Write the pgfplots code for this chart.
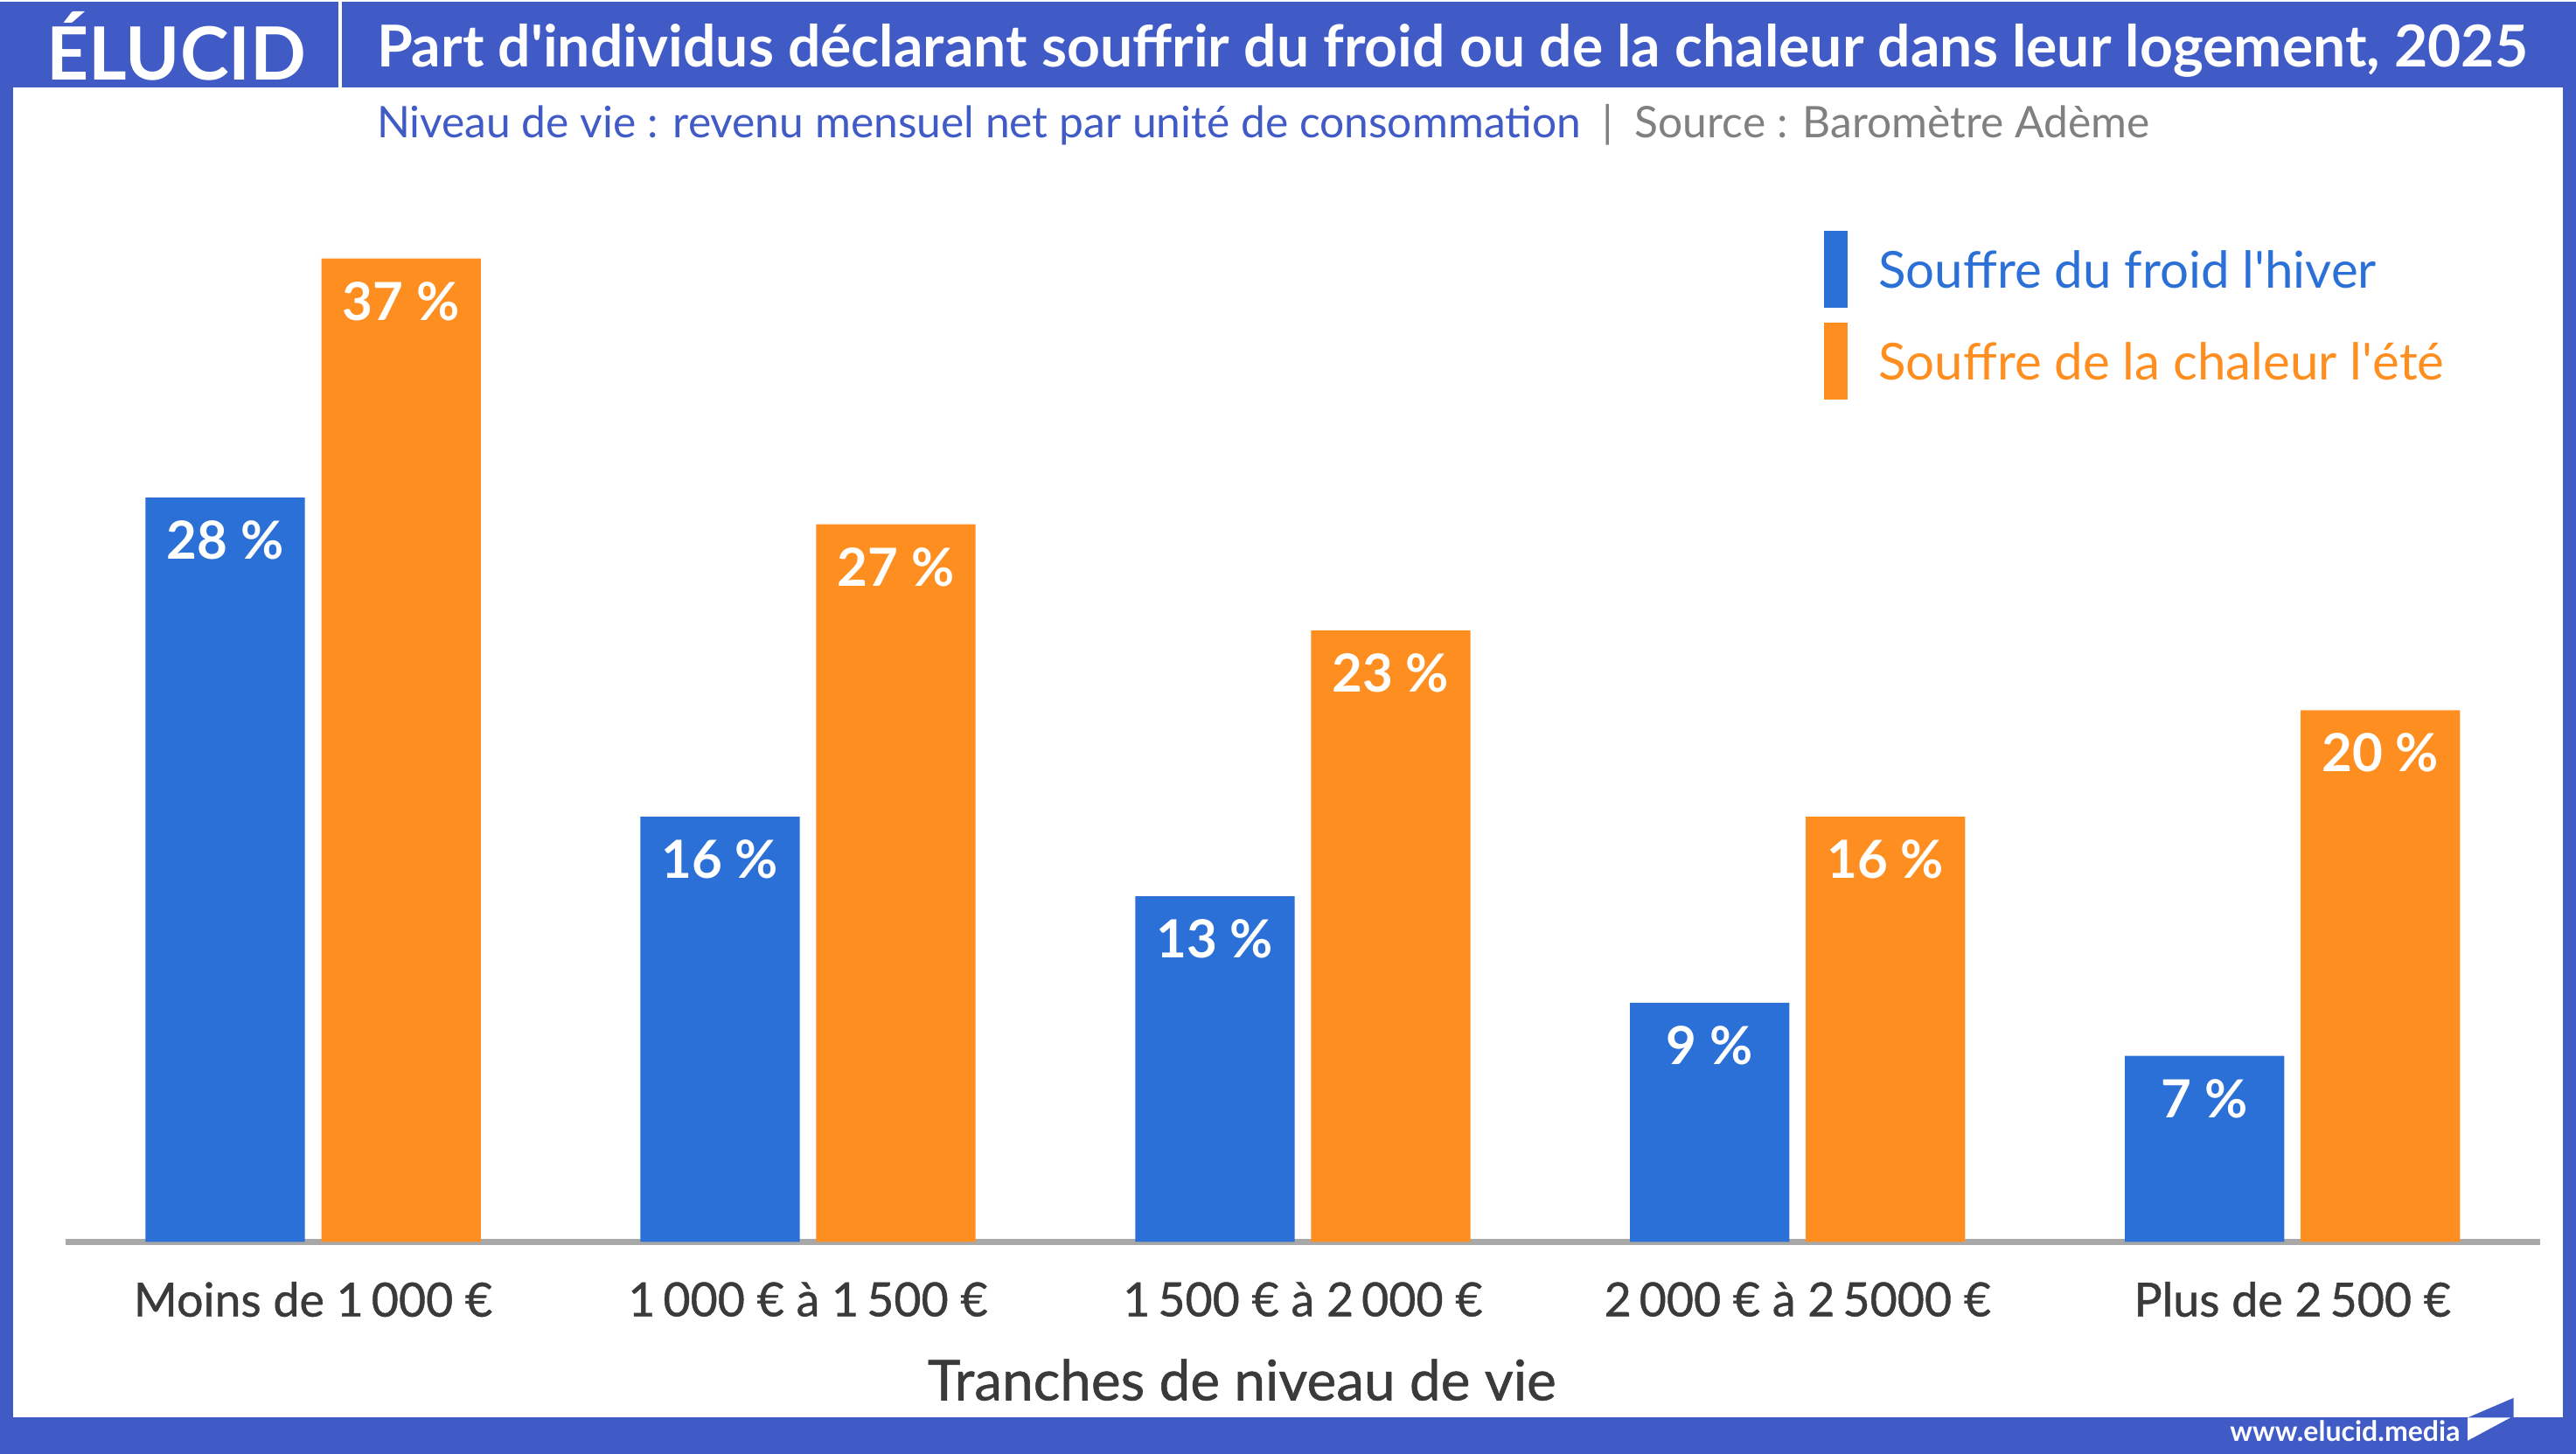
\documentclass[border=0pt]{standalone}
\usepackage{pgfplots}
\pgfplotsset{compat=1.18}
\usepackage{fontspec}
\setmainfont{Lato}
\newfontfamily\latomed{Lato}[FakeBold=0.8]
\definecolor{framebl}{RGB}{64,90,198}
\definecolor{barbl}{RGB}{43,112,214}
\definecolor{baror}{RGB}{255,142,32}
\definecolor{axgray}{RGB}{168,168,168}
\definecolor{txgray}{RGB}{58,58,58}
\definecolor{srcgray}{RGB}{128,128,128}
\begin{document}
\begin{tikzpicture}
% frame
\fill[framebl] (0pt,0pt) rectangle (784pt,442pt);
\fill[white] (4pt,11pt) rectangle (780pt,416pt);
\draw[white, line width=1pt] (103.5pt,416pt) -- (103.5pt,442pt);
% header
\node[white, anchor=west, inner sep=0pt] at (14pt,428.5pt) {\resizebox{79pt}{!}{\bfseries ÉLUCID}};
\node[white, anchor=west, inner sep=0pt] at (114.5pt,427pt) {\resizebox{654.5pt}{!}{\bfseries Part d\textquotesingle individus déclarant souffrir du froid ou de la chaleur dans leur logement, 2025}};
\node[anchor=west, inner sep=0pt] at (114.5pt,404.5pt) {\resizebox{539.5pt}{!}{\textcolor{framebl}{Niveau de vie : revenu mensuel net par unité de consommation}\textcolor{srcgray}{\enspace|\enspace Source : Baromètre Adème}}};
% footer
\node[white, anchor=west, inner sep=0pt] at (678.5pt,7pt) {\resizebox{70pt}{!}{\bfseries www.elucid.media}};
\fill[framebl] (751pt,11pt) -- (765pt,17pt) -- (765pt,11pt) -- cycle;
\fill[white] (751pt,11pt) -- (764pt,11pt) -- (751pt,4pt) -- cycle;
\begin{axis}[
  at={(20pt,64.5pt)}, anchor=south west,
  scale only axis, width=753pt, height=323.6pt,
  xmin=-0.5, xmax=4.5, ymin=0, ymax=40,
  axis x line=bottom, axis y line=none,
  x axis line style={-, draw=axgray, line width=1.75pt},
  xtick={0,1,2,3,4}, major tick length=0pt, ytick=\empty,
  xticklabels={{Moins de 1\,000 €},{1\,000 € à 1\,500 €},{1\,500 € à 2\,000 €},{2\,000 € à 2\,5000 €},{Plus de 2\,500 €}},
  xticklabel style={anchor=center, yshift=-17.5pt, inner sep=0pt, text=txgray, font=\latomed\fontsize{14.3}{16}\selectfont},
  xlabel={Tranches de niveau de vie},
  xlabel style={at={(0.4754,0)}, anchor=center, yshift=-42pt, inner sep=0pt, text=txgray, font=\latomed\fontsize{17}{20}\selectfont},
  ybar=5pt, bar width=48.5pt,
  clip=false,
  nodes near coords={\pgfmathprintnumber[fixed,precision=0,assume math mode=true]{\pgfplotspointmeta}~\%},
  every node near coord/.append style={anchor=center, yshift=-13pt, inner sep=0pt, text=white, font=\bfseries\fontsize{16}{19}\selectfont},
  legend style={at={(0.7105,0.952)}, anchor=north west, draw=none, fill=none, inner sep=0pt,
     row sep=4.5pt, nodes={inner sep=0pt, text depth=0pt}, font=\fontsize{15.5}{18}\selectfont,
     /tikz/every odd column/.append style={column sep=9.5pt}},
  legend cell align=left,
  legend image code/.code={\fill[#1] (0pt,-11.75pt) rectangle (7pt,11.75pt);},
]
\addplot[fill=barbl, draw=none] coordinates {(0,28) (1,16) (2,13) (3,9) (4,7)};
\addlegendentry{\textcolor{barbl}{Souffre du froid l\textquotesingle hiver}}
\addplot[fill=baror, draw=none] coordinates {(0,37) (1,27) (2,23) (3,16) (4,20)};
\addlegendentry{\textcolor{baror}{Souffre de la chaleur l\textquotesingle été}}
\end{axis}
\end{tikzpicture}
\end{document}
